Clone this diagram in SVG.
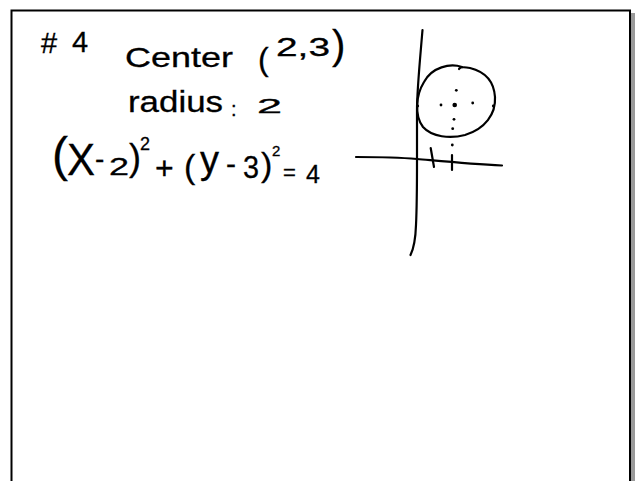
<svg xmlns="http://www.w3.org/2000/svg" width="639" height="481" viewBox="0 0 639 481">
<style>
.t{font-family:"Liberation Sans","DejaVu Sans",sans-serif;fill:#000;stroke:#000;stroke-width:0.3;}
.ink{fill:none;stroke:#000;stroke-width:2.2;stroke-linecap:round;stroke-linejoin:round;}
.dot{fill:#000;}
</style>
<rect x="0" y="0" width="639" height="481" fill="#fff"/>
<g id="frame">
<rect x="631" y="13" width="4" height="468" fill="#9a9a9a"/>
<path d="M11.5,481 V10.5 H630 V481" fill="none" stroke="#000" stroke-width="2"/>
</g>
<g id="title">
<text class="t" x="41" y="53" font-size="29">#</text>
<text class="t" x="72" y="52" font-size="29">4</text>
</g>
<g id="center">
<text class="t" x="125" y="67" font-size="28" textLength="108" lengthAdjust="spacingAndGlyphs">Center</text>
<text class="t" x="258" y="70" font-size="32">(</text>
<text class="t" x="276" y="56" font-size="26" textLength="54" lengthAdjust="spacingAndGlyphs">2,3</text>
<text class="t" x="332" y="59" font-size="40">)</text>
</g>
<g id="radius">
<text class="t" x="128" y="112" font-size="30" textLength="95" lengthAdjust="spacingAndGlyphs">radius</text>
<text class="t" x="231" y="116" font-size="20">:</text>
<text class="t" x="257" y="113" font-size="20" textLength="25" lengthAdjust="spacingAndGlyphs">2</text>
</g>
<g id="equation">
<text class="t" x="52" y="171" font-size="48">(</text>
<text class="t" x="67" y="175" font-size="44" textLength="28" lengthAdjust="spacingAndGlyphs">X</text>
<text class="t" x="95" y="168" font-size="28">-</text>
<text class="t" x="109" y="175" font-size="24" textLength="20" lengthAdjust="spacingAndGlyphs">2</text>
<text class="t" x="129" y="170" font-size="36">)</text>
<text class="t" x="140" y="150" font-size="18">2</text>
<text class="t" x="155" y="179" font-size="32">+</text>
<text class="t" x="184" y="178" font-size="34">(</text>
<text class="t" x="200" y="173" font-size="38">y</text>
<text class="t" x="226" y="174" font-size="30">-</text>
<text class="t" x="243" y="178" font-size="32" textLength="16" lengthAdjust="spacingAndGlyphs">3</text>
<text class="t" x="261" y="176" font-size="34">)</text>
<text class="t" x="272" y="156" font-size="15">2</text>
<text class="t" x="283" y="180" font-size="22">=</text>
<text class="t" x="306" y="183" font-size="25">4</text>
</g>
<g id="graph">
<path class="ink" d="M422.5,30 C420,60 417,90 417,110 L417,160 C417,190 416.5,215 416,225 C415.5,240 413,250 410.5,255"/>
<path class="ink" d="M356,157 C380,157 400,157.5 417,159 C440,161 470,164 502,165.5"/>
<path class="ink" d="M430.7,148 L434,167"/>
<path class="ink" d="M452,155 L452,170"/>
<path class="ink" d="M462,67 C450,63 432,67 424,82 C416,95 414,115 423,127 C432,137 450,139 465,135 C485,129 496,114 495,97 C494,82 486,72 470,68 C465,67 460,67 459,69"/>
<circle class="dot" cx="456.3" cy="90.3" r="1.4"/>
<circle class="dot" cx="441" cy="105" r="1.4"/>
<circle class="dot" cx="454.7" cy="105" r="2.3"/>
<circle class="dot" cx="472.7" cy="103" r="1.4"/>
<circle class="dot" cx="454" cy="119.3" r="1.4"/>
<circle class="dot" cx="452.7" cy="128.7" r="1.4"/>
<circle class="dot" cx="452.3" cy="145" r="1.4"/>
<circle class="dot" cx="417.7" cy="106" r="1.4"/>
<circle class="dot" cx="493.3" cy="106" r="1.4"/>
</g>
</svg>
